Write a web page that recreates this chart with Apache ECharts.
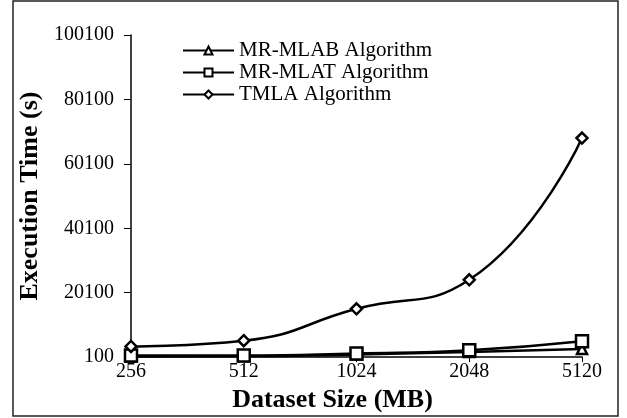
<!DOCTYPE html>
<html>
<head>
<meta charset="utf-8">
<script src="https://cdn.jsdelivr.net/npm/echarts@6/dist/echarts.min.js"></script>
<style>
  html, body { margin: 0; padding: 0; background: #fff; }
  #main { width: 627px; height: 418px; }
</style>
</head>
<body>
<div id="main"></div>
<script>
// 数据
var sizes = ['256', '512', '1024', '2048', '5120'];
var mlab = [300, 400, 900, 1700, 2600];
var mlat = [600, 600, 1200, 2200, 5000];
var tmla = [3400, 5200, 15100, 24100, 68100];

var font = '"Liberation Serif", "Times New Roman", serif';

function mkSeries(name, data, symbol, size) {
    return {
        name: name,
        type: 'line',
        smooth: true,
        data: data,
        symbol: symbol,
        symbolSize: size,
        lineStyle: { color: '#000', width: 2.5 },
        itemStyle: { color: '#fff', borderColor: '#000', borderWidth: 2.5 }
    };
}

var myChart = echarts.init(document.getElementById('main'));
myChart.setOption({
    animation: false,
    textStyle: { fontFamily: font },
    graphic: [{
        type: 'rect',
        shape: { x: 13, y: 1, width: 605, height: 415 },
        style: { fill: 'none', stroke: '#222', lineWidth: 1.5 }
    }],
    grid: { left: 131, right: 45, top: 35, bottom: 60 },
    legend: {
        left: 177, top: 35,
        orient: 'vertical',
        itemWidth: 51, itemHeight: 10, itemGap: 1,
        textStyle: { fontFamily: font, fontSize: 21, color: '#000' },
        data: ['MR-MLAB Algorithm', 'MR-MLAT Algorithm', 'TMLA Algorithm']
    },
    xAxis: {
        type: 'category',
        data: sizes,
        boundaryGap: false,
        name: 'Dataset Size (MB)',
        nameLocation: 'middle',
        nameGap: 26,
        nameTextStyle: {
            fontFamily: font, fontSize: 26, fontWeight: 'bold', color: '#000',
            padding: [0, 48, 0, 0]
        },
        axisLine: { lineStyle: { color: '#000', width: 1.5 } },
        axisTick: { alignWithLabel: true, length: 5, lineStyle: { color: '#000' } },
        axisLabel: { fontFamily: font, fontSize: 20, color: '#000', margin: 5 }
    },
    yAxis: {
        type: 'value',
        min: 100, max: 100100, interval: 20000,
        name: 'Execution Time (s)',
        nameLocation: 'middle',
        nameGap: 83,
        nameTextStyle: { fontFamily: font, fontSize: 26, fontWeight: 'bold', color: '#000' },
        splitLine: { show: false },
        axisLine: { show: true, lineStyle: { color: '#000', width: 1.5 } },
        axisTick: { show: true, length: 7, lineStyle: { color: '#000' } },
        axisLabel: {
            fontFamily: font, fontSize: 20, color: '#000', margin: 17,
            formatter: function (v) { return String(v); }
        }
    },
    series: [
        mkSeries('MR-MLAB Algorithm', mlab, 'triangle', 10),
        mkSeries('MR-MLAT Algorithm', mlat, 'rect', 12),
        mkSeries('TMLA Algorithm', tmla, 'diamond', 11)
    ]
});
</script>
</body>
</html>
